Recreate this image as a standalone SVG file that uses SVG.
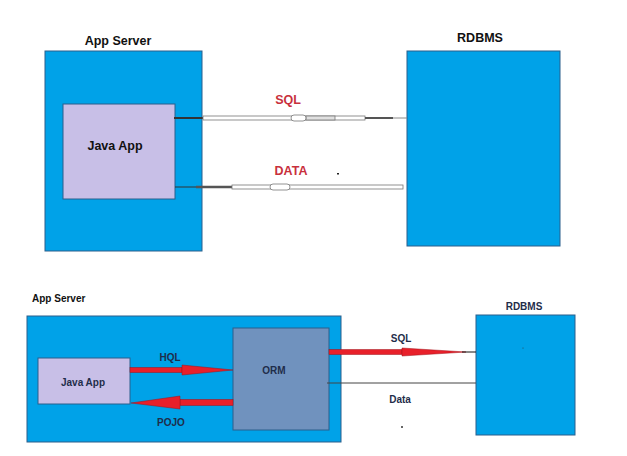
<svg xmlns="http://www.w3.org/2000/svg" width="627" height="456" viewBox="0 0 627 456">
<style>
.box{fill:#00a2e8;stroke:#2b5f8c;stroke-width:1}
.app{fill:#c8bfe7;stroke:#2b5f8c;stroke-width:1}
.orm{fill:#7092be;stroke:#2b5f8c;stroke-width:1}
.t{font-family:"Liberation Sans",Arial,sans-serif;font-weight:bold;text-anchor:middle}
.big{font-size:12.5px;fill:#111}
.small{font-size:10px;fill:#1f2d4a}
.red{fill:#c8303c}
.pipe{fill:#fff;stroke:#777;stroke-width:0.8}
.arrow{fill:#e8202a;stroke:#a01018;stroke-width:0.5}
</style>
<rect width="627" height="456" fill="#fff"/>
<g id="top-app-server">
<rect class="box" x="45" y="51" width="157" height="200"/>
<text class="t big" x="118" y="45">App Server</text>
</g>
<g id="top-java-app">
<rect class="app" x="63" y="104" width="112" height="95"/>
<text class="t big" x="115" y="150">Java App</text>
</g>
<g id="top-rdbms">
<rect class="box" x="407" y="51" width="153" height="195"/>
<text class="t big" x="480" y="42">RDBMS</text>
</g>
<g id="bottom-app-server">
<rect class="box" x="27" y="316" width="314" height="126"/>
<text class="t small" x="32" y="302" style="text-anchor:start;fill:#111">App Server</text>
</g>
<g id="bottom-java-app">
<rect class="app" x="38" y="358" width="92" height="46"/>
<text class="t small" x="83" y="386">Java App</text>
</g>
<g id="orm">
<rect class="orm" x="233" y="328" width="96" height="102"/>
<text class="t small" x="274" y="374">ORM</text>
</g>
<g id="bottom-rdbms">
<rect class="box" x="476" y="315" width="99" height="120"/>
<text class="t small" x="524" y="310">RDBMS</text>
<circle cx="523" cy="348" r="0.5" fill="#333"/>
</g>
<g id="connectors">
<!-- top SQL pipe -->
<line x1="174" y1="118" x2="203" y2="118" stroke="#333" stroke-width="2"/>
<rect class="pipe" x="203" y="116" width="162" height="4"/>
<rect x="306" y="116" width="29" height="4" fill="#e0e0e0" stroke="#777" stroke-width="0.8"/>
<rect class="pipe" x="291" y="115" width="15" height="6" rx="3"/>
<line x1="365" y1="118" x2="393" y2="118" stroke="#555" stroke-width="2"/>
<line x1="393" y1="118" x2="407" y2="118" stroke="#888" stroke-width="1"/>
<text class="t red" x="288" y="104" style="font-size:12.5px">SQL</text>
<!-- top DATA pipe -->
<line x1="175" y1="187" x2="196" y2="187" stroke="#333" stroke-width="1"/>
<line x1="196" y1="187" x2="232" y2="187" stroke="#555" stroke-width="2.5"/>
<rect class="pipe" x="232" y="185" width="171" height="4"/>
<rect class="pipe" x="270" y="184" width="20" height="6" rx="3"/>
<text class="t red" x="291" y="175" style="font-size:12.5px">DATA</text>
<rect x="337" y="173" width="2" height="1.5" fill="#222"/>
<!-- HQL arrow -->
<rect class="arrow" x="130" y="367.5" width="52" height="5"/>
<polygon class="arrow" points="182,365 233,370 182,375"/>
<text class="t small" x="170" y="361">HQL</text>
<!-- POJO arrow -->
<rect class="arrow" x="180" y="399.5" width="53" height="6"/>
<polygon class="arrow" points="180,396 131,403 180,409"/>
<text class="t small" x="171" y="426">POJO</text>
<!-- bottom SQL arrow -->
<rect class="arrow" x="329" y="349.5" width="73" height="5"/>
<polygon class="arrow" points="402,348 466,352 402,356"/>
<line x1="462" y1="352" x2="476" y2="352" stroke="#111" stroke-width="1"/>
<text class="t small" x="401" y="342">SQL</text>
<!-- Data line -->
<line x1="327" y1="383" x2="476" y2="383" stroke="#444" stroke-width="1"/>
<text class="t small" x="400" y="403">Data</text>
<circle cx="402" cy="427" r="1" fill="#333"/>
</g>
</svg>
